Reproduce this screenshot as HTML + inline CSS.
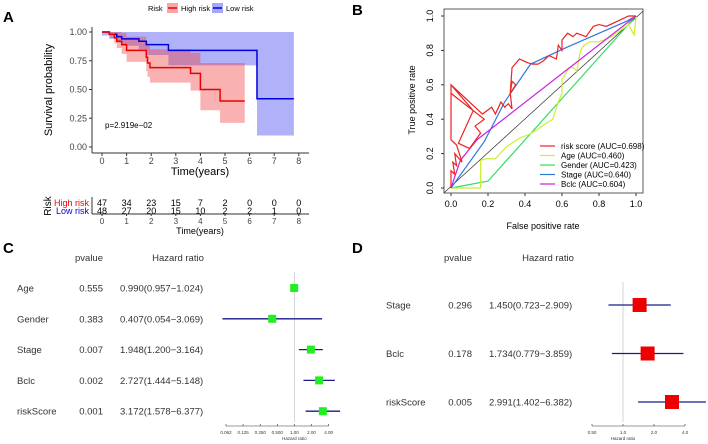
<!DOCTYPE html>
<html><head><meta charset="utf-8"><style>
body{margin:0;background:#fff}
svg{display:block;font-family:"Liberation Sans",Arial,sans-serif}
</style></head><body>
<svg width="708" height="444" viewBox="0 0 708 444">
<g id="A"></g>
<g id="B"></g>
<g id="C"></g>
<g id="D"></g>
</svg>
<script>
// ---------- Panel A data ----------
const kmHighT=[0,0.3,0.5,0.6,0.8,1.0,1.8,1.85,1.95,3.6,4.0,4.8];
const kmHighS=[1,0.98,0.95,0.92,0.89,0.84,0.78,0.73,0.69,0.64,0.50,0.40];
const kmHighU=[1,1,1,1,0.99,0.96,0.92,0.88,0.85,0.82,0.73,0.73];
const kmHighL=[1,0.95,0.9,0.86,0.81,0.74,0.66,0.61,0.56,0.49,0.32,0.21];
const kmHighEnd=5.8;
const kmLowT=[0,0.3,0.6,0.8,1.5,1.8,2.7,6.3];
const kmLowS=[1,0.98,0.96,0.94,0.92,0.89,0.84,0.42];
const kmLowU=[1,1,1,1,1,1,1,1];
const kmLowL=[0.97,0.94,0.91,0.88,0.85,0.80,0.71,0.10];
const kmLowEnd=7.8;
const riskHigh=[47,34,23,15,7,2,0,0,0];
const riskLow=[48,27,20,15,10,2,2,1,0];
const timeTicks=[0,1,2,3,4,5,6,7,8];
const survTicks=[0,0.25,0.5,0.75,1];
// ---------- Panel B data ----------
const rocNames=["risk score (AUC=0.698)","Age (AUC=0.460)","Gender (AUC=0.423)","Stage (AUC=0.640)","Bclc (AUC=0.604)"];
const rocColors=["#ee2222","#ccee33","#33dd66","#3377dd","#cc22dd"];
const rocX=[
 [0,0,0.02,0.01,0.03,0.02,0.06,0.03,0,0,0.12,0.04,0.1,0.16,0.13,0.18,0,0,0.17,0.22,0.24,0.27,0.29,0.31,0.33,0.32,0.33,0.35,0.32,0.33,0.37,0.41,0.44,0.47,0.5,0.53,0.57,0.58,0.6,0.6,0.63,0.66,0.68,0.73,0.77,0.8,0.84,0.9,0.96,1],
 [0,0.16,0.16,0.19,0.24,0.3,0.37,0.42,0.48,0.52,0.55,0.58,0.6,0.6,0.64,0.66,0.68,0.7,0.72,0.75,0.8,0.87,0.92,0.96,0.99,1],
 [0,0.2,1],
 [0,0.18,0.29,0.43,0.63,0.95,1],
 [0,0.05,0.14,1],
 ];
const rocY=[
 [0,0.1,0.08,0.15,0.13,0.2,0.15,0.25,0.28,0.6,0.45,0.26,0.23,0.32,0.36,0.4,0.55,0.6,0.43,0.47,0.43,0.5,0.47,0.49,0.46,0.55,0.62,0.6,0.55,0.7,0.75,0.73,0.72,0.72,0.74,0.77,0.75,0.83,0.8,0.86,0.9,0.88,0.9,0.88,0.94,0.95,0.94,0.97,1,1],
 [0,0,0.16,0.17,0.17,0.24,0.29,0.31,0.35,0.38,0.4,0.5,0.55,0.63,0.7,0.7,0.68,0.8,0.83,0.85,0.85,0.88,0.92,0.95,0.89,1],
 [0,0.04,1],
 [0,0.27,0.5,0.72,0.82,0.97,1],
 [0,0.16,0.28,1],
 ];
const rocTicks=[0,0.2,0.4,0.6,0.8,1];
// ---------- Panel C data ----------
const cVars=["Age","Gender","Stage","Bclc","riskScore"];
const cP=["0.555","0.383","0.007","0.002","0.001"];
const cHR=[0.990,0.407,1.948,2.727,3.172];
const cLo=[0.957,0.054,1.200,1.444,1.578];
const cHi=[1.024,3.069,3.164,5.148,6.377];
const cTicks=[0.0625,0.125,0.25,0.5,1,2,4];
const cTickLab=["0.062","0.125","0.250","0.500","1.00","2.00","4.00"];
// ---------- Panel D data ----------
const dVars=["Stage","Bclc","riskScore"];
const dP=["0.296","0.178","0.005"];
const dHR=[1.450,1.734,2.991];
const dLo=[0.723,0.779,1.402];
const dHi=[2.909,3.859,6.382];
const dTicks=[0.5,1,2,4];
const dTickLab=["0.50","1.0","2.0","4.0"];

const NS="http://www.w3.org/2000/svg";
function el(p,tag,at,txt){const e=document.createElementNS(NS,tag);for(const k in at)e.setAttribute(k,at[k]);if(txt!==undefined)e.textContent=txt;p.appendChild(e);return e;}

// ===== Panel A =====
const A=document.getElementById('A');
const ax=t=>102+t*24.6, ay=s=>147-s*115;
let e=el(A,'text',{x:3,y:22,'font-size':15,'font-weight':'bold'},'A');


function band(T,U,L,end,col){let up=[],lo=[];for(let i=0;i<T.length;i++){const t1=i<T.length-1?T[i+1]:end;up.push([ax(T[i]),ay(U[i])],[ax(t1),ay(U[i])]);lo.push([ax(T[i]),ay(L[i])],[ax(t1),ay(L[i])]);}
 const pts=up.concat(lo.reverse()).map(p=>p.join(',')).join(' ');return el(A,'polygon',{points:pts,fill:col});}
e=band(kmLowT,kmLowU,kmLowL,kmLowEnd,'rgba(60,60,240,0.4)');


e=band(kmHighT,kmHighU,kmHighL,kmHighEnd,'rgba(240,60,60,0.4)');


function step(T,S,end,col){let d='M'+ax(T[0])+','+ay(S[0]);for(let i=1;i<T.length;i++){d+='H'+ax(T[i])+'V'+ay(S[i]);}d+='H'+ax(end);return el(A,'path',{d:d,fill:'none',stroke:col,'stroke-width':1.5});}
e=step(kmLowT,kmLowS,kmLowEnd,'#0000dd');


e=step(kmHighT,kmHighS,kmHighEnd,'#ee0000');


el(A,'line',{x1:92,y1:27,x2:92,y2:153,stroke:'#333'});
el(A,'line',{x1:92,y1:153,x2:309,y2:153,stroke:'#333'});
survTicks.forEach(s=>{el(A,'line',{x1:89,x2:92,y1:ay(s),y2:ay(s),stroke:'#333'});
 e=el(A,'text',{x:87,y:ay(s)+3,'font-size':9,'text-anchor':'end',fill:'#444'},s.toFixed(2));
 
 });
timeTicks.forEach(t=>{el(A,'line',{x1:ax(t),x2:ax(t),y1:153,y2:156,stroke:'#333'});
 e=el(A,'text',{x:ax(t),y:164,'font-size':9,'text-anchor':'middle',fill:'#444'},t);
 
 });
e=el(A,'text',{x:200,y:175,'font-size':11,'text-anchor':'middle'},'Time(years)');


e=el(A,'text',{x:0,y:0,'font-size':11,'text-anchor':'middle',transform:'translate(52,90) rotate(-90)'},'Survival probability');


e=el(A,'text',{x:105,y:128,'font-size':8},'p=2.919e−02');


e=el(A,'text',{x:148,y:11,'font-size':7.5},'Risk');


el(A,'rect',{x:167,y:3,width:11,height:10,fill:'rgba(240,60,60,0.45)'});
el(A,'line',{x1:168,x2:177,y1:8,y2:8,stroke:'#e00','stroke-width':1.5});
e=el(A,'text',{x:181,y:11,'font-size':7.5},'High risk');


el(A,'rect',{x:212,y:3,width:11,height:10,fill:'rgba(60,60,240,0.45)'});
el(A,'line',{x1:213,x2:222,y1:8,y2:8,stroke:'#00d','stroke-width':1.5});
e=el(A,'text',{x:226,y:11,'font-size':7.5},'Low risk');


el(A,'line',{x1:92,y1:197,x2:92,y2:214,stroke:'#333'});
el(A,'line',{x1:92,y1:214,x2:309,y2:214,stroke:'#333'});
e=el(A,'text',{x:0,y:0,'font-size':10,'text-anchor':'middle',transform:'translate(51,206) rotate(-90)'},'Risk');


e=el(A,'text',{x:89,y:206,'font-size':9,'text-anchor':'end',fill:'#e00'},'High risk');


e=el(A,'text',{x:89,y:214,'font-size':9,'text-anchor':'end',fill:'#00d'},'Low risk');


timeTicks.forEach((t,i)=>{
 e=el(A,'text',{x:ax(t),y:206,'font-size':9,'text-anchor':'middle'},riskHigh[i]);
 
 
 e=el(A,'text',{x:ax(t),y:214,'font-size':9,'text-anchor':'middle'},riskLow[i]);
 
 
 el(A,'line',{x1:ax(t),x2:ax(t),y1:214,y2:216,stroke:'#333'});
 e=el(A,'text',{x:ax(t),y:224,'font-size':8,'text-anchor':'middle',fill:'#444'},t);
 
 
});
e=el(A,'text',{x:200,y:234,'font-size':9,'text-anchor':'middle'},'Time(years)');



// ===== Panel B =====
const B=document.getElementById('B');
const bx=v=>451+v*185, by=v=>188-v*172;
e=el(B,'text',{x:352,y:15,'font-size':15,'font-weight':'bold'},'B');


el(B,'rect',{x:444,y:9,width:199,height:184,fill:'none',stroke:'#333','stroke-width':0.8});
el(B,'line',{x1:bx(-0.04),y1:by(-0.03),x2:bx(1.04),y2:by(1.03),stroke:'#333','stroke-width':0.7});
rocTicks.forEach(v=>{el(B,'line',{x1:bx(v),x2:bx(v),y1:193,y2:196,stroke:'#333'});
 e=el(B,'text',{x:bx(v),y:207,'font-size':9,'text-anchor':'middle'},v.toFixed(1));
 
 
 el(B,'line',{x1:441,x2:444,y1:by(v),y2:by(v),stroke:'#333'});
 e=el(B,'text',{x:0,y:0,'font-size':9,'text-anchor':'middle',transform:`translate(433,${by(v)}) rotate(-90)`},v.toFixed(1));
 
 });
e=el(B,'text',{x:0,y:0,'font-size':9,'text-anchor':'middle',transform:'translate(415,100) rotate(-90)'},'True positive rate');


e=el(B,'text',{x:543,y:229,'font-size':9,'text-anchor':'middle'},'False positive rate');


[2,1,3,4,0].forEach(k=>{const pts=rocX[k].map((x,i)=>bx(x)+','+by(rocY[k][i])).join(' ');
 e=el(B,'polyline',{points:pts,fill:'none',stroke:rocColors[k],'stroke-width':1.2});
 
 });
rocNames.forEach((n,i)=>{const y=149+i*9.5;
 el(B,'line',{x1:540,x2:555,y1:y-3,y2:y-3,stroke:rocColors[i],'stroke-width':1.2});
 e=el(B,'text',{x:561,y:y,'font-size':8},n);
 
 });

// ===== Forest helper =====
function forest(G,o){
 e=el(G,'text',{x:o.lx,y:o.ly,'font-size':15,'font-weight':'bold'},o.letter);
 
 
 e=el(G,'text',{x:o.px,y:o.hy,'font-size':9.5,'text-anchor':'end',fill:'#333'},'pvalue');
 
 
 e=el(G,'text',{x:o.hrx,y:o.hy,'font-size':9.5,'text-anchor':'middle',fill:'#333'},'Hazard ratio');
 
 
 const fx=v=>o.x0+Math.log2(v/o.t0)*o.k;
 el(G,'line',{x1:fx(1),x2:fx(1),y1:o.refTop,y2:o.axY-4,stroke:'#ccc','stroke-width':0.8});
 o.vars.forEach((v,i)=>{const y=o.y0+i*o.dy;
  e=el(G,'text',{x:o.vx,y:y+3.5,'font-size':9.5,fill:'#333'},v);
  
  
  e=el(G,'text',{x:o.px,y:y+3.5,'font-size':9.5,'text-anchor':'end',fill:'#333'},o.p[i]);
  
  
  e=el(G,'text',{x:o.tx,y:y+3.5,'font-size':9.5,fill:'#333'},o.hr[i].toFixed(3)+'('+o.lo[i].toFixed(3)+'−'+o.hi[i].toFixed(3)+')');
  
  
  e=el(G,'line',{x1:fx(o.lo[i]),x2:fx(o.hi[i]),y1:y,y2:y,stroke:'#1a1a8a','stroke-width':1.3});
  
  
  e=el(G,'rect',{x:fx(o.hr[i])-o.bs/2,y:y-o.bs/2,width:o.bs,height:o.bs,fill:o.col});
  
  
 });
 el(G,'line',{x1:fx(o.ticks[0]),x2:fx(o.ticks[o.ticks.length-1]),y1:o.axY,y2:o.axY,stroke:'#333','stroke-width':0.6});
 o.ticks.forEach((t,i)=>{el(G,'line',{x1:fx(t),x2:fx(t),y1:o.axY,y2:o.axY-2,stroke:'#333','stroke-width':0.6});
  e=el(G,'text',{x:fx(t),y:o.axY+8,'font-size':4.5,'text-anchor':'middle',fill:'#333'},o.tl[i]);
  
  });
 e=el(G,'text',{x:fx(1),y:o.axY+14,'font-size':4.5,'text-anchor':'middle',fill:'#333'},'Hazard ratio');
 
 
}
forest(document.getElementById('C'),{letter:'C',lx:3,ly:253,px:103,hy:261,hrx:178,vx:17,tx:120,y0:288,dy:30.8,
 x0:226,t0:0.0625,k:17.1,refTop:272,axY:426,bs:8,col:'#22ee22',vars:cVars,p:cP,hr:cHR,lo:cLo,hi:cHi,ticks:cTicks,tl:cTickLab});
forest(document.getElementById('D'),{letter:'D',lx:352,ly:253,px:472,hy:261,hrx:548,vx:386,tx:489,y0:305,dy:48.5,
 x0:592,t0:0.5,k:31,refTop:282,axY:426,bs:14,col:'#ee0000',vars:dVars,p:dP,hr:dHR,lo:dLo,hi:dHi,ticks:dTicks,tl:dTickLab});
</script>
</body></html>
